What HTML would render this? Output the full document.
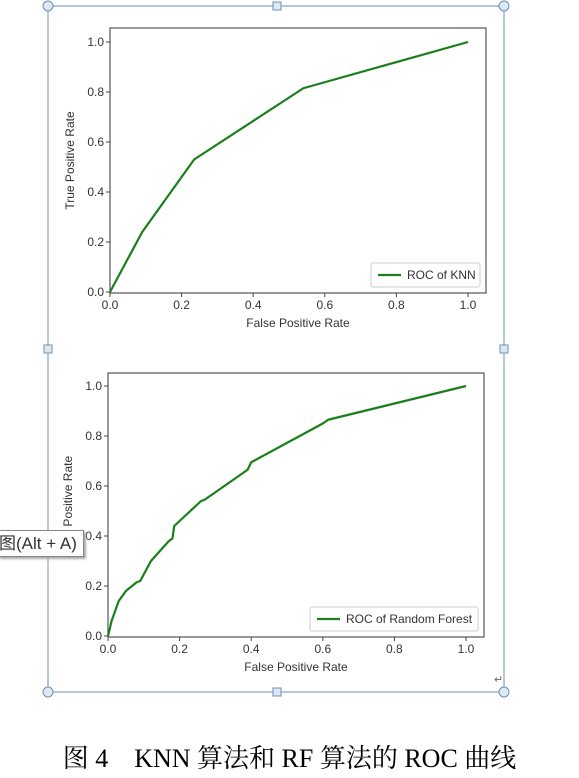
<!DOCTYPE html>
<html><head><meta charset="utf-8"><style>
body{margin:0;width:579px;height:778px;background:#fff;overflow:hidden;position:relative;font-family:"Liberation Sans",sans-serif}
svg{position:absolute;left:0;top:0}
#tip{position:absolute;left:-2px;top:530px;width:84px;height:25px;border:1px solid #888;background:#fff;box-shadow:2px 2px 2px #aaa;font:17px "Liberation Sans","Noto Sans CJK SC",sans-serif;line-height:25px;color:#333;white-space:nowrap;overflow:hidden}
#cap{position:absolute;left:0;width:579px;top:738px;text-align:center;font:26px "Liberation Serif","Noto Serif CJK SC",serif;color:#000;white-space:nowrap}
</style></head><body>
<svg id="s" width="579" height="778"></svg>
<div id="tip">图(Alt + A)</div>
<div id="cap">图 4　KNN 算法和 RF 算法的 ROC 曲线</div>
<script>
const ticks=[0,0.2,0.4,0.6,0.8,1.0];
const tickLabels=["0.0","0.2","0.4","0.6","0.8","1.0"];
const knnFpr=[0,0.09,0.235,0.54,1];
const knnTpr=[0,0.24,0.53,0.815,1];
const rfFpr=[0,0.01,0.015,0.03,0.05,0.08,0.09,0.12,0.17,0.18,0.185,0.26,0.27,0.39,0.4,0.6,0.615,1];
const rfTpr=[0,0.06,0.08,0.14,0.18,0.215,0.22,0.30,0.38,0.39,0.44,0.54,0.545,0.665,0.695,0.85,0.865,1];
const NS="http://www.w3.org/2000/svg",S=document.getElementById('s');
function el(t,a,p){const e=document.createElementNS(NS,t);for(const k in a)e.setAttribute(k,a[k]);(p||S).appendChild(e);return e;}
const box=el('rect',{x:48,y:6,width:456,height:686,fill:'none',stroke:'#6d8fb3','stroke-width':1});

[[48,6],[504,6],[48,692],[504,692]].forEach(p=>{const c=el('circle',{cx:p[0],cy:p[1],r:5,fill:'#dde9f3',stroke:'#6d8fb3'});
});
[[277,6],[48,349],[504,349],[277,692]].forEach(p=>{const r=el('rect',{x:p[0]-4,y:p[1]-4,width:8,height:8,fill:'#dde9f3',stroke:'#6d8fb3'});
});
const ret=el('text',{x:494,y:683,'font-size':11,fill:'#666'});ret.textContent='↵';
function chart(name,fl,ft,fr,fb,x0,x1,y0,y1,xs,ys,label,lw){
 const g=el('g',{});
 const X=v=>x0+v*(x1-x0),Y=v=>y0+v*(y1-y0);
 el('rect',{x:fl,y:ft,width:fr-fl,height:fb-ft,fill:'#fff',stroke:'#555','stroke-width':1.2},g);
 ticks.forEach((t,i)=>{
  el('line',{x1:X(t),x2:X(t),y1:fb,y2:fb+4,stroke:'#444'},g);
  const a=el('text',{x:X(t),y:fb+16,'text-anchor':'middle','font-size':12,fill:'#333'},g);a.textContent=tickLabels[i];
  
  el('line',{x1:fl-4,x2:fl,y1:Y(t),y2:Y(t),stroke:'#444'},g);
  const b=el('text',{x:fl-6,y:Y(t)+4,'text-anchor':'end','font-size':12,fill:'#333'},g);b.textContent=tickLabels[i];
  
 });
 const xt=el('text',{x:(fl+fr)/2,y:fb+34,'text-anchor':'middle','font-size':12,fill:'#333'},g);xt.textContent='False Positive Rate';
 
 const yt=el('text',{x:0,y:0,'text-anchor':'middle','font-size':12,fill:'#333',transform:`translate(${fl-36},${(ft+fb)/2}) rotate(-90)`},g);yt.textContent='True Positive Rate';
 
 const pts=xs.map((v,i)=>X(v)+','+Y(ys[i])).join(' ');
 const pl=el('polyline',{points:pts,fill:'none',stroke:'#1a7f1a','stroke-width':2.2,'stroke-linejoin':'round'},g);
 
 const lx=fr-6-lw,ly=fb-30;
 const lg=el('rect',{x:lx,y:ly,width:lw,height:24,fill:'#fff',stroke:'#ccc',rx:2},g);
 
 el('line',{x1:lx+7,x2:lx+30,y1:ly+12,y2:ly+12,stroke:'#1a7f1a','stroke-width':2.2},g);
 const lt=el('text',{x:lx+36,y:ly+16,'font-size':12,fill:'#333'},g);lt.textContent=label;
 
}
chart('knn-roc-chart',110,28,486,293,110,468,292,42,knnFpr,knnTpr,'ROC of KNN',109);
chart('rf-roc-chart',108,373,484,637,108,466,636,386,rfFpr,rfTpr,'ROC of Random Forest',168);
</script>
</body></html>
